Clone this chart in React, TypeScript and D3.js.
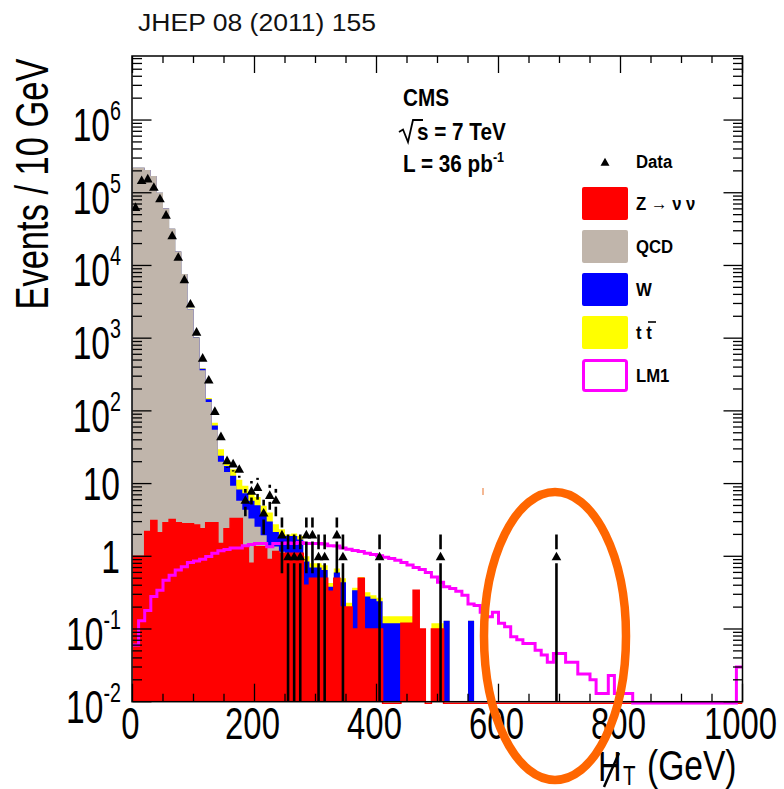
import React from "react";
import * as d3 from "d3";

// bin width 10 GeV, bins start at 0 GeV; bins beyond a list's length are empty
const binEdges = [0, 10, 20, 30, 40, 50, 60, 70, 80, 90, 100];
const nBins = 100;

const zNuNu = [
  1.0, 1.0, 2.2, 3.1, 2.1, 2.9, 3.2, 2.9, 2.8, 2.8,
  2.7, 2.4, 2.9, 2.9, 1.5, 2.4, 3.3, 3.3, 1.35, 0.8,
  1.35, 1.35, 0.9, 1.16, 1.1, 1.1, 1.1, 1.1, 0.4, 0.5,
  0.5, 0.5, 0.33, 0.5, 0.2, 0.2, 0.1, 0.5, 0.1, 0.1,
  0.1, 0, 0, 0, 0.12, 0.12, 0.34, 0.1, 0, 0.1,
  0.1,
];
const qcd = [
  2.2e5, 2.2e5, 2.05e5, 1.7e5, 1.0e5, 6.1e4, 3.2e4, 1.55e4, 7.6e3, 2.5e3,
  1.0e3, 360, 130, 52, 18.5, 12, 6, 2.5, 3, 2.5,
  1.2, 0.6, 0.5, 0.2, 0.05,
];
const wJets = [
  0, 0, 0, 0, 0, 30, 30, 30, 28, 25,
  22, 18, 12, 8, 4.2, 3, 3.5, 2.5, 3, 2.5,
  2.5, 1.8, 1.6, 0.8, 0.7, 0.8, 0.8, 0.6, 0.45, 0.2,
  0.2, 0.15, 0.05, 0.1, 0.24, 0, 0.24, 0, 0.18, 0.16,
  0.14, 0.12, 0.12, 0.12, 0, 0, 0, 0, 0, 0,
  0, 0.13, 0, 0, 0, 0.13,
];
const ttbar = [
  0, 0, 0, 0, 0, 2, 3, 4, 4, 5,
  6, 6, 6, 6, 5.4, 3.5, 3, 3, 2, 1.5,
  1.5, 1.2, 1.0, 0.6, 0.5, 0.1, 0.15, 0.2, 0.15, 0.1,
  0.1, 0.1, 0.05, 0.08, 0.06, 0.03, 0.03, 0.02, 0.04, 0.03,
  0.03, 0.03, 0.03, 0.03, 0.03, 0.03, 0, 0, 0, 0.02,
  0.02,
];
const lm1 = [
  0.06, 0.13, 0.18, 0.28, 0.34, 0.47, 0.55, 0.65, 0.72, 0.82,
  0.86, 0.91, 0.99, 1.1, 1.19, 1.24, 1.3, 1.3, 1.4, 1.45,
  1.5, 1.5, 1.35, 1.5, 1.5, 1.52, 1.5, 1.55, 1.5, 1.5,
  1.5, 1.48, 1.4, 1.38, 1.3, 1.25, 1.2, 1.16, 1.1, 1.06,
  1.02, 0.97, 0.93, 0.88, 0.82, 0.76, 0.7, 0.66, 0.6, 0.52,
  0.44, 0.38, 0.36, 0.33, 0.29, 0.22, 0.21, 0.17, 0.147, 0.17,
  0.12, 0.107, 0.078, 0.071, 0.063, 0.063, 0.051, 0.044, 0.035, 0.046,
  0.046, 0.035, 0.035, 0.024, 0.024, 0.02, 0.013, 0.013, 0.023, 0.013,
  0.013, 0.013, 0, 0, 0, 0, 0, 0, 0, 0,
  0, 0, 0, 0, 0, 0, 0, 0, 0, 0.03,
];
const dataCounts = [
  64000, 150000, 158000, 121000, 84000, 50000, 26000, 13200, 6500, 3000,
  1230, 540, 270, 100, 45, 21, 19, 16, 6, 8,
  9, 4, 7, 6, 2, 1, 1, 1, 2, 2,
  1, 1, 0, 2, 1, 0, 0, 0, 0, 0,
  1, 0, 0, 0, 0, 0, 0, 0, 0, 0,
  1, 0, 0, 0, 0, 0, 0, 0, 0, 0,
  0, 0, 0, 0, 0, 0, 0, 0, 0, 1,
];

const xTickLabels = [0, 200, 400, 600, 800, 1000];
const yDecades = [-2, -1, 0, 1, 2, 3, 4, 5, 6];

const legendItems = [
  { label: "Z \u2192 \u03bd \u03bd", color: "#ff0000", outline: false },
  { label: "QCD", color: "#c0b5ab", outline: false },
  { label: "W", color: "#0000ff", outline: false },
  { label: "tt", color: "#ffff00", outline: false },
  { label: "LM1", color: "#ff00ff", outline: true },
];

const FONT = "'Liberation Sans', Arial, Helvetica, sans-serif";
const SX = 0.73; // condensed look of the axis labels

export default function App() {
  const X0 = 132.5, X1 = 742.5, YT = 56, YB = 701.7;
  const x = d3.scaleLinear().domain([0, 1000]).range([X0, X1]);
  const y = d3.scaleLog().domain([0.01, 7.6e6]).range([YB, YT]);
  const binW = binEdges[1] - binEdges[0];
  const get = (arr: number[], i: number) => (i < arr.length ? arr[i] : 0);
  const yc = (v: number) => (v > 0.01 ? y(v) : YB);
  const ycLine = (v: number) => (v > 0.01 ? y(v) : YB + 1.5);

  const bins = d3.range(nBins);
  const cumZ = bins.map((i) => get(zNuNu, i));
  const cumQ = bins.map((i) => cumZ[i] + get(qcd, i));
  const cumW = bins.map((i) => cumQ[i] + get(wJets, i));
  const cumT = bins.map((i) => cumW[i] + get(ttbar, i));

  const stepPts = (vals: number[]) => {
    const pts: [number, number][] = vals.map((v, i) => [i * binW, v]);
    pts.push([nBins * binW, vals[vals.length - 1]]);
    return pts;
  };
  const area = d3
    .area<[number, number]>()
    .x((d) => x(d[0]))
    .y0(YB)
    .y1((d) => yc(d[1]))
    .curve(d3.curveStepAfter);
  const line = d3
    .line<[number, number]>()
    .x((d) => x(d[0]))
    .y((d) => ycLine(d[1]))
    .curve(d3.curveStepAfter);

  const layers = [
    { vals: cumT, color: "#ffff00" },
    { vals: cumW, color: "#0000ff" },
    { vals: cumQ, color: "#c0b5ab" },
    { vals: cumZ, color: "#ff0000" },
  ];

  const xMinor = d3.range(0, 1001, 50);
  const yTicks: { v: number; major: boolean }[] = [];
  yDecades.forEach((k) => {
    for (let m = 1; m <= 9; m++) {
      const v = m * Math.pow(10, k);
      if (v <= 7.6e6) yTicks.push({ v, major: m === 1 });
    }
  });

  const tri = (cx: number, cy: number, s: number) =>
    `M${cx - s},${cy + s * 0.85} L${cx + s},${cy + s * 0.85} L${cx},${cy - s * 0.95} Z`;

  const markers = dataCounts.map((n, i) => ({ n, i })).filter((d) => d.n > 0);

  return (
    <svg width={784} height={789} style={{ display: "block", position: "absolute", left: 0, top: 0, background: "#fff" }}>
      <rect x={0} y={0} width={784} height={789} fill="#fff" />
      <defs>
        <clipPath id="frame">
          <rect x={X0} y={YT} width={X1 - X0} height={YB - YT + 3} />
        </clipPath>
      </defs>
      <text x={138} y={31} fontFamily={FONT} fontSize={23} fill="#111" textLength={238} lengthAdjust="spacingAndGlyphs">
        JHEP 08 (2011) 155
      </text>

      <g clipPath="url(#frame)">
        {layers.map((l, k) => (
          <path key={k} d={area(stepPts(l.vals)) || ""} fill={l.color} stroke="none" />
        ))}
        <path d={line(stepPts(cumZ)) || ""} fill="none" stroke="#ff0000" strokeWidth={1.5} />
        <path d={line(stepPts(lm1)) || ""} fill="none" stroke="#ff00ff" strokeWidth={3} />
        {markers.map(({ n, i }) => {
          const cx = x((i + 0.5) * binW);
          const cy = y(n);
          const s = Math.sqrt(n);
          const yHi = y(n + s);
          const yLo = n - s > 0.01 ? y(n - s) : YB;
          const gap = 7;
          return (
            <g key={i}>
              {yHi < cy - gap && <line x1={cx} x2={cx} y1={yHi} y2={cy - gap} stroke="#000" strokeWidth={2.6} />}
              {yLo > cy + gap && <line x1={cx} x2={cx} y1={cy + gap} y2={yLo} stroke="#000" strokeWidth={2.6} />}
              <path d={tri(cx, cy, 4.8)} fill="#000" />
            </g>
          );
        })}
      </g>

      {/* frame and ticks */}
      <rect x={X0 - 0.5} y={YT} width={X1 - X0 + 0.5} height={YB - YT} fill="none" stroke="#000" strokeWidth={1.5} />
      {xMinor.map((v) => {
        const major = v % 200 === 0;
        const xx = x(v);
        return (
          <g key={v}>
            <line x1={xx} x2={xx} y1={YB} y2={YB - (major ? 18 : 8)} stroke="#000" strokeWidth={1.3} />
            <line x1={xx} x2={xx} y1={YT} y2={YT + (major ? 17 : 7)} stroke="#000" strokeWidth={1.3} />
          </g>
        );
      })}
      {yTicks.map((t, k) => {
        const yy = y(t.v);
        const len = t.major ? 19 : 9.5;
        return (
          <g key={k}>
            <line x1={X0} x2={X0 + len} y1={yy} y2={yy} stroke="#000" strokeWidth={1.3} />
            <line x1={X1} x2={X1 - len} y1={yy} y2={yy} stroke="#000" strokeWidth={1.3} />
          </g>
        );
      })}

      {/* y tick labels */}
      {yDecades.map((k) => {
        const yy = y(Math.pow(10, k));
        if (k === 0 || k === 1)
          return (
            <text key={k} transform={`translate(120,${yy + 16.5}) scale(${SX},1)`} textAnchor="end" fontFamily={FONT} fontSize={46}>
              {k === 0 ? "1" : "10"}
            </text>
          );
        return (
          <text key={k} transform={`translate(121,${yy + 21}) scale(${SX},1)`} textAnchor="end" fontFamily={FONT} fontSize={46}>
            10
            <tspan fontSize={27} dy={-21}>{String(k)}</tspan>
          </text>
        );
      })}

      {/* x tick labels */}
      {xTickLabels.map((v) => (
        <text key={v} transform={`translate(${x(v) - 2},739) scale(${SX},1)`} textAnchor="middle" fontFamily={FONT} fontSize={45}>
          {v}
        </text>
      ))}

      {/* axis titles */}
      <text transform={`translate(48,184) rotate(-90) scale(0.75,1)`} textAnchor="middle" fontFamily={FONT} fontSize={46}>
        Events / 10 GeV
      </text>
      <text transform={`translate(598,781) scale(0.76,1)`} fontFamily={FONT} fontSize={43}>H</text>
      <line x1={604} y1={787} x2={619} y2={753} stroke="#000" strokeWidth={2.5} />
      <text transform={`translate(623,785) scale(0.76,1)`} fontFamily={FONT} fontSize={27}>T</text>
      <text transform={`translate(647,780) scale(0.78,1)`} fontFamily={FONT} fontSize={43}>(GeV)</text>

      {/* CMS labels */}
      <text transform="translate(403,106) scale(0.9,1)" fontFamily={FONT} fontSize={23} fontWeight="bold">CMS</text>
      <path d="M399,132 L403,129.5 L408,142 L413,120 L423,120" fill="none" stroke="#000" strokeWidth={1.8} />
      <text transform="translate(417,140) scale(0.9,1)" fontFamily={FONT} fontSize={23} fontWeight="bold">s = 7 TeV</text>
      <text transform="translate(403,172) scale(0.9,1)" fontFamily={FONT} fontSize={23} fontWeight="bold">
        L = 36 pb<tspan fontSize={14} dy={-10}>-1</tspan>
      </text>

      {/* legend */}
      <path d={tri(605, 162, 4.5)} fill="#000" />
      <text transform="translate(636,168) scale(0.88,1)" fontFamily={FONT} fontSize={19} fontWeight="bold">Data</text>
      {legendItems.map((it, k) => {
        const top = 187 + k * 43;
        return (
          <g key={it.label}>
            <rect
              x={it.outline ? 583.5 : 582}
              y={it.outline ? top + 1.5 : top}
              width={it.outline ? 43 : 46}
              height={it.outline ? 30 : 33}
              rx={2}
              fill={it.outline ? "none" : it.color}
              stroke={it.color}
              strokeWidth={it.outline ? 3 : 0}
            />
            {it.label === "tt" ? (
              <g>
                <text transform={`translate(636,${top + 23}) scale(0.88,1)`} fontFamily={FONT} fontSize={19} fontWeight="bold">t t</text>
                <line x1={648} x2={656} y1={top + 6} y2={top + 6} stroke="#000" strokeWidth={1.6} />
              </g>
            ) : (
              <text transform={`translate(636,${top + 23}) scale(0.88,1)`} fontFamily={FONT} fontSize={19} fontWeight="bold">{it.label}</text>
            )}
          </g>
        );
      })}

      {/* annotation */}
      <line x1={483} x2={483} y1={488} y2={495} stroke="#f0a070" strokeWidth={1.5} />
      <ellipse cx={555} cy={636} rx={71} ry={144} fill="none" stroke="#ff6600" strokeWidth={8.5} />
    </svg>
  );
}
